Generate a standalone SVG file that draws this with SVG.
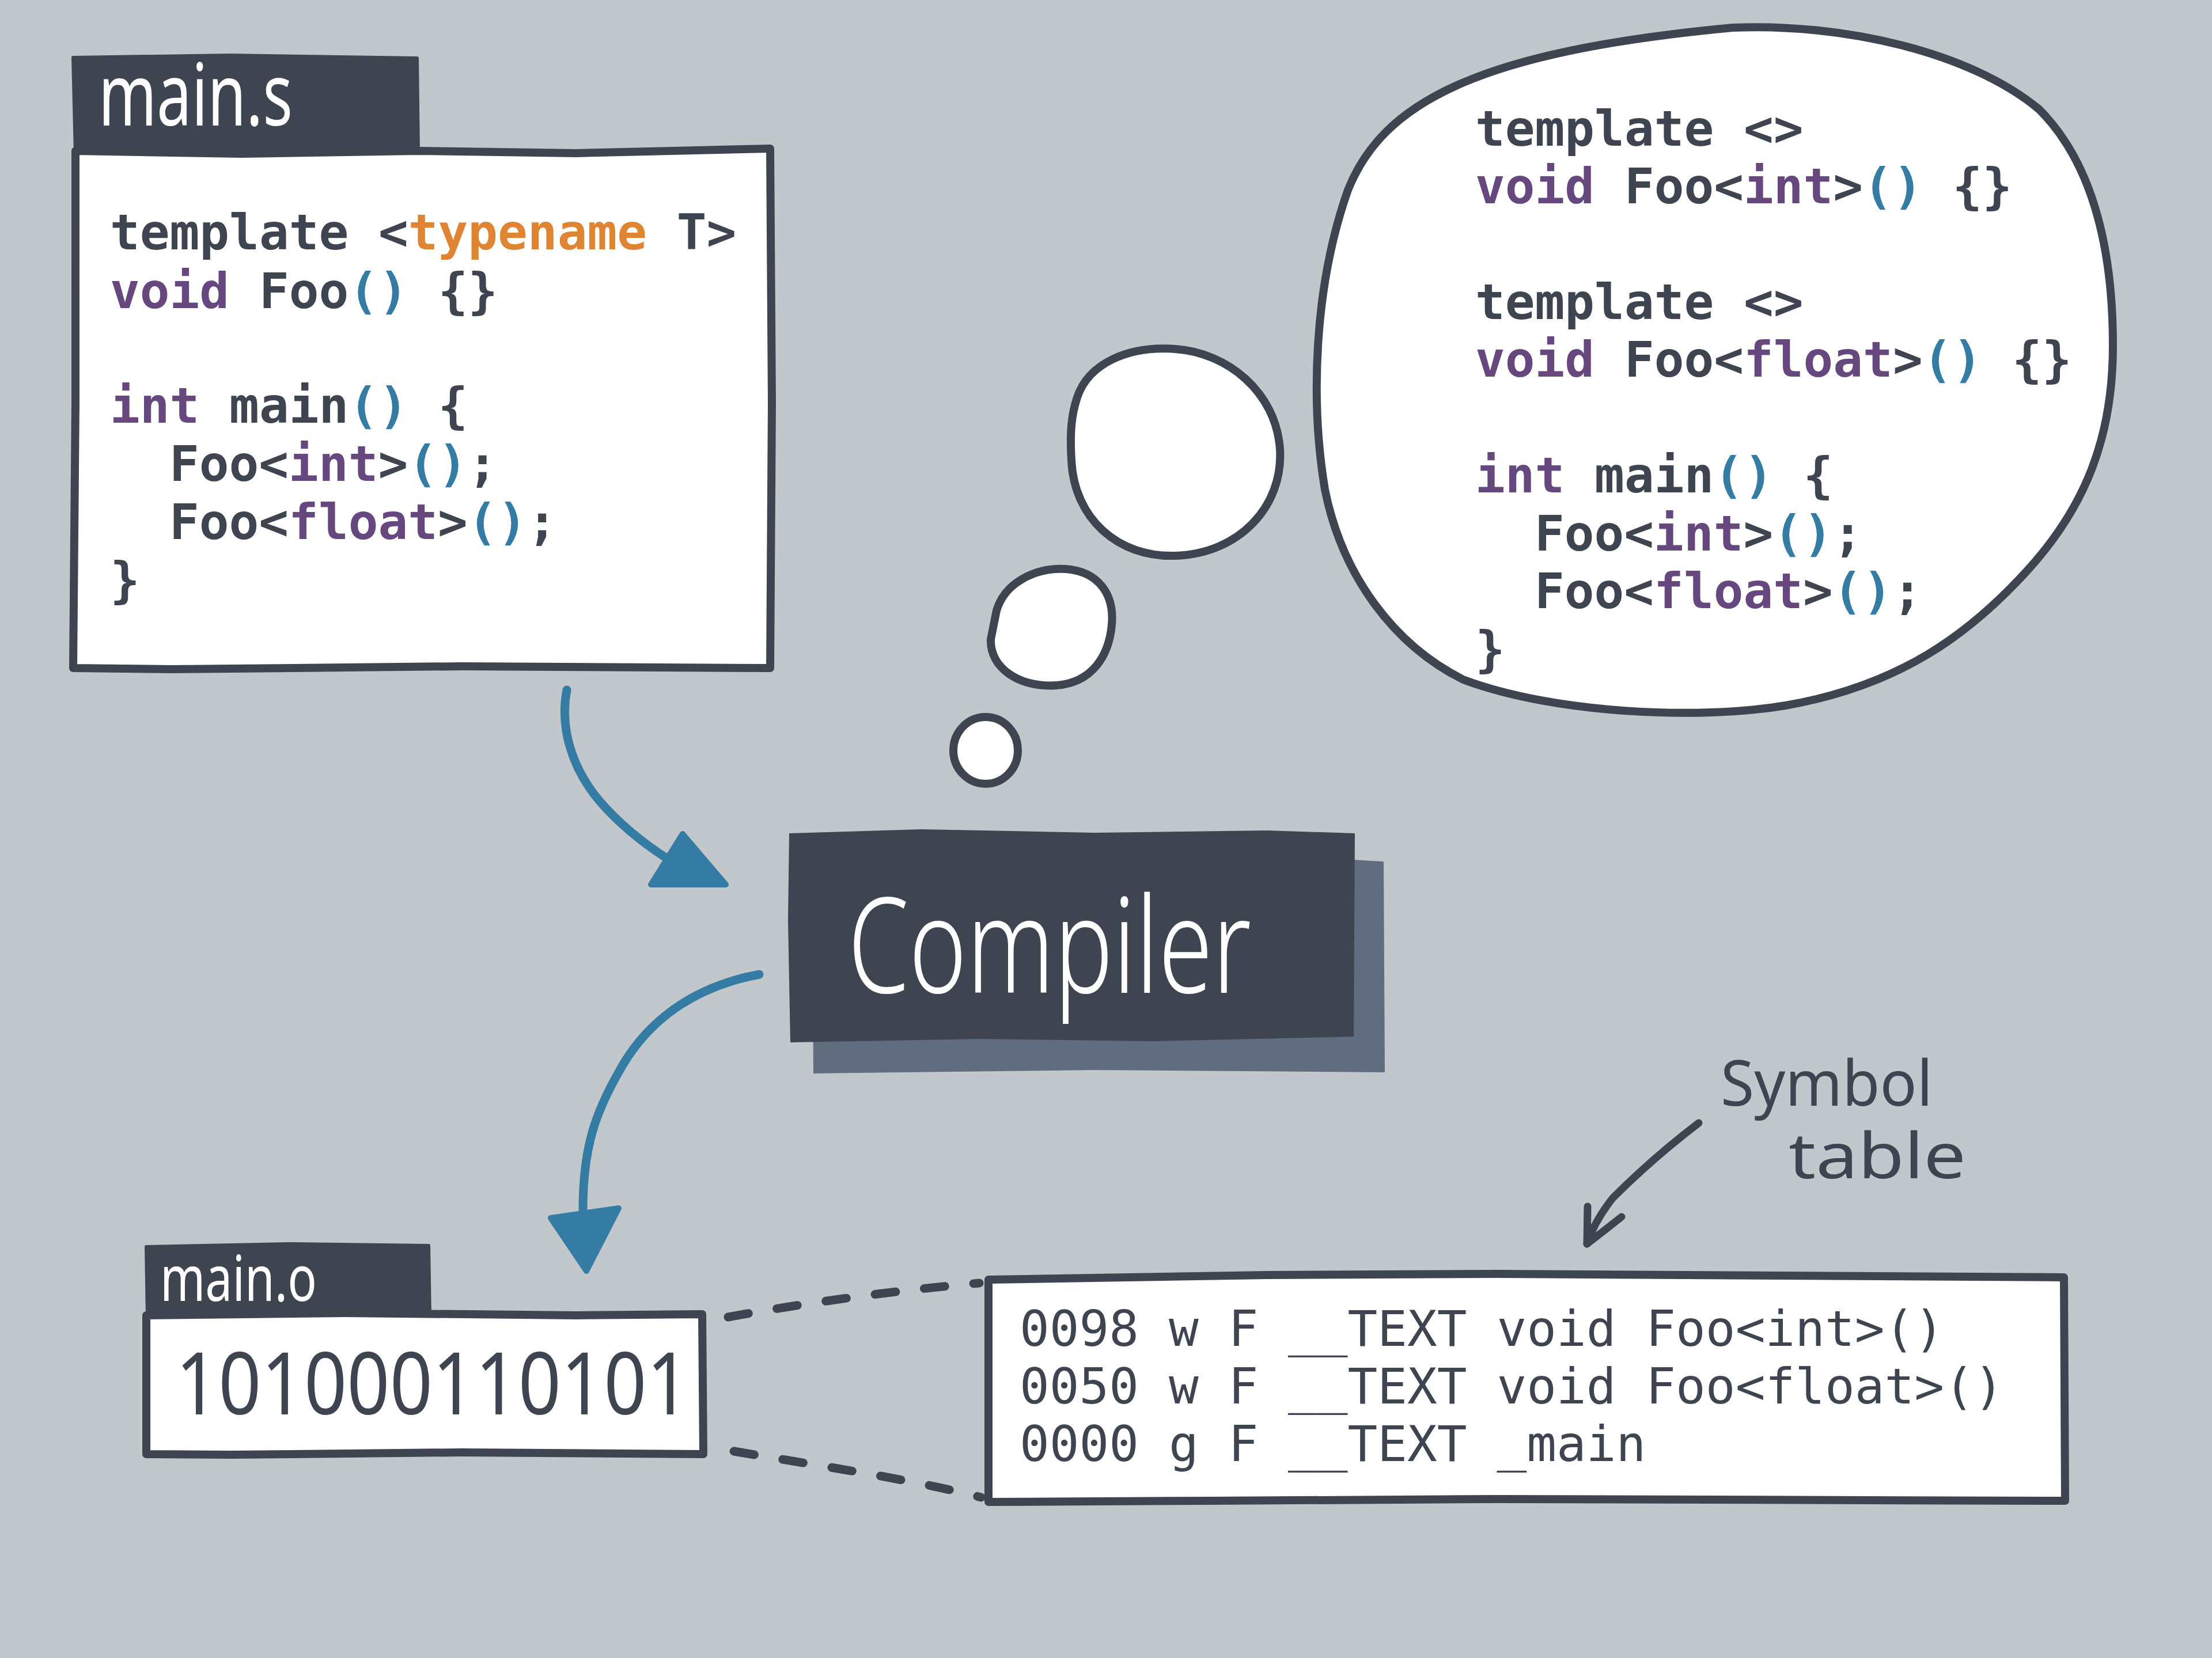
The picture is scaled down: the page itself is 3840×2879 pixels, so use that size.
<svg xmlns="http://www.w3.org/2000/svg" width="3840" height="2879" viewBox="0 0 3840 2879">
<defs>
<style>
.bg{fill:#c2c7cb}
.box{fill:#ffffff;stroke:#3e4550;stroke-width:14;stroke-linejoin:round;stroke-linecap:round}
.tab{fill:#3e4550;stroke:#3e4550;stroke-width:6;stroke-linejoin:round}
.code{font-family:"DejaVu Sans Mono","Liberation Mono",monospace;font-size:86px;font-weight:bold;fill:#3e4550}
.sym{font-family:"DejaVu Sans Mono","Liberation Mono",monospace;font-size:86px;font-weight:normal;fill:#3e4550}
.kw{fill:#66487f}
.par{fill:#357ca5}
.tn{fill:#de8433}
.hand{font-family:"Noto Sans","DejaVu Sans",sans-serif}
.blue{fill:none;stroke:#357ca5;stroke-width:15;stroke-linecap:round;stroke-linejoin:round}
.bluehead{fill:#357ca5;stroke:#357ca5;stroke-width:10;stroke-linejoin:round}
.dash{fill:none;stroke:#3e4550;stroke-width:15;stroke-linecap:round;stroke-dasharray:36 50}
.dark{fill:none;stroke:#3e4550;stroke-width:13;stroke-linecap:round;stroke-linejoin:round}
</style>
</defs>
<rect class="bg" x="0" y="0" width="3840" height="2879"/>

<g id="connectors">
<path class="blue" d="M984,1198 C972,1260 990,1330 1040,1390 C1070,1425 1110,1460 1160,1492"/>
<path class="bluehead" d="M1130,1536 L1185,1448 L1260,1536 Z"/>
<path class="blue" d="M1318,1692 C1220,1710 1130,1760 1075,1860 C1035,1930 1012,1990 1012,2100"/>
<path class="bluehead" d="M956,2115 L1074,2098 L1018,2207 Z"/>
<path class="dash" d="M1264,2287 C1400,2262 1560,2240 1700,2228"/>
<path class="dash" d="M1274,2520 C1420,2545 1580,2568 1703,2600"/>
<path class="dark" d="M2949,1950 C2890,1995 2840,2040 2800,2080 C2780,2105 2765,2130 2755,2160"/>
<path class="dark" d="M2756,2095 L2755,2160 L2815,2113"/>
</g>

<g id="main-s">
<path class="box" d="M131,262 L420,267 L725,262 L1000,266 L1337,258 L1340,700 L1337,1160 L800,1157 L300,1162 L127,1160 L131,700 Z"/>
<path class="tab" d="M127,100 L400,96 L724,101 L726,262 L500,266 L300,262 L131,266 Z"/>
<text class="hand" x="171" y="218" font-size="150" fill="#ffffff" textLength="337" lengthAdjust="spacingAndGlyphs">main.s</text>
<text class="code" x="191" y="433">template &lt;<tspan class="tn">typename</tspan> T&gt;</text>
<text class="code" x="191" y="535"><tspan class="kw">void</tspan> Foo<tspan class="par">()</tspan> {}</text>
<text class="code" x="191" y="734"><tspan class="kw">int</tspan> main<tspan class="par">()</tspan> {</text>
<text class="code" x="294" y="835">Foo&lt;<tspan class="kw">int</tspan>&gt;<tspan class="par">()</tspan>;</text>
<text class="code" x="294" y="936">Foo&lt;<tspan class="kw">float</tspan>&gt;<tspan class="par">()</tspan>;</text>
<text class="code" x="191" y="1037">}</text>
</g>

<g id="thought-bubble">
<ellipse class="box" cx="1711" cy="1303" rx="56" ry="58"/>
<path class="box" d="M1730,1060 C1745,1010 1800,985 1850,988 C1905,992 1935,1030 1930,1085 C1925,1140 1895,1185 1835,1190 C1770,1195 1718,1160 1720,1110 Z"/>
<path class="box" d="M1870,690 C1890,630 1960,600 2040,606 C2130,612 2215,680 2222,780 C2228,880 2150,962 2040,965 C1940,968 1865,900 1860,800 C1857,750 1860,720 1870,690 Z"/>
<path class="box" d="M3008,48 C3200,40 3420,90 3540,190 C3640,290 3668,450 3668,600 C3668,760 3620,880 3520,990 C3420,1100 3300,1190 3100,1225 C2950,1250 2700,1240 2540,1180 C2420,1120 2330,1000 2300,850 C2275,700 2280,500 2340,330 C2400,180 2560,90 3008,48 Z"/>
<text class="code" x="2561" y="253">template &lt;&gt;</text>
<text class="code" x="2561" y="353"><tspan class="kw">void</tspan> Foo&lt;<tspan class="kw">int</tspan>&gt;<tspan class="par">()</tspan> {}</text>
<text class="code" x="2561" y="554">template &lt;&gt;</text>
<text class="code" x="2561" y="654"><tspan class="kw">void</tspan> Foo&lt;<tspan class="kw">float</tspan>&gt;<tspan class="par">()</tspan> {}</text>
<text class="code" x="2561" y="855"><tspan class="kw">int</tspan> main<tspan class="par">()</tspan> {</text>
<text class="code" x="2664" y="956">Foo&lt;<tspan class="kw">int</tspan>&gt;<tspan class="par">()</tspan>;</text>
<text class="code" x="2664" y="1056">Foo&lt;<tspan class="kw">float</tspan>&gt;<tspan class="par">()</tspan>;</text>
<text class="code" x="2561" y="1157">}</text>
</g>

<g id="compiler">
<path fill="#5f6d7e" d="M1410,1500 L2350,1493 L2402,1496 L2404,1862 L1900,1858 L1412,1864 Z"/>
<path fill="#3e4550" d="M1370,1447 L1600,1440 L1900,1446 L2200,1442 L2352,1447 L2350,1800 L2000,1808 L1700,1804 L1372,1810 L1368,1600 Z"/>
<text class="hand" x="1472" y="1724" font-size="230" font-weight="300" fill="#ffffff" textLength="700" lengthAdjust="spacingAndGlyphs">Compiler</text>
</g>

<g id="main-o">
<path class="box" d="M254,2284 L600,2280 L1000,2284 L1219,2282 L1221,2525 L800,2522 L400,2526 L254,2525 Z"/>
<path class="tab" d="M254,2165 L500,2160 L744,2163 L746,2284 L500,2280 L256,2287 Z"/>
<text class="hand" x="278" y="2259" font-size="110" fill="#ffffff" textLength="272" lengthAdjust="spacingAndGlyphs">main.o</text>
<text class="hand" x="305" y="2456" font-size="150" fill="#3e4550" textLength="892" lengthAdjust="spacingAndGlyphs">101000110101</text>
</g>

<g id="symbol-table">
<path class="box" d="M1716,2222 L2200,2214 L2600,2212 L3583,2218 L3585,2606 L2600,2603 L2100,2606 L1716,2608 Z"/>
<text class="sym" x="1770" y="2337">0098 w F __TEXT void Foo&lt;int&gt;()</text>
<text class="sym" x="1770" y="2437">0050 w F __TEXT void Foo&lt;float&gt;()</text>
<text class="sym" x="1770" y="2537">0000 g F __TEXT _main</text>
</g>

<g id="symbol-label">
<text class="hand" font-size="110" fill="#3e4550"><tspan x="2987" y="1920" textLength="368" lengthAdjust="spacingAndGlyphs">Symbol</tspan><tspan x="3105" y="2046" textLength="308" lengthAdjust="spacingAndGlyphs">table</tspan></text>
</g>
</svg>
